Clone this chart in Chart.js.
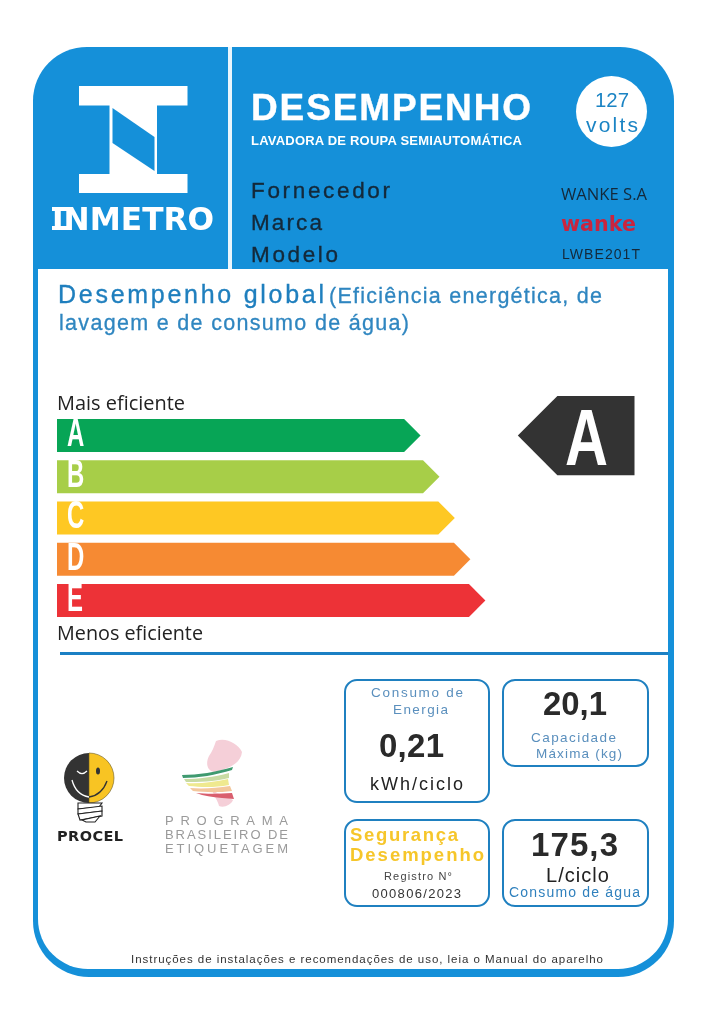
<!DOCTYPE html>
<html lang="pt-BR"><head><meta charset="utf-8"><title>Etiqueta INMETRO</title>
<script src="https://cdn.jsdelivr.net/npm/chart.js@4"></script>
<style>
html,body{margin:0;padding:0;background:#fff;width:707px;height:1024px;overflow:hidden}
#page{position:relative;width:707px;height:1024px;overflow:hidden;background:#fff}
.abs{position:absolute}
#card{left:33px;top:47px;width:641px;height:930px;background:#1590d9;border-radius:54px 54px 56px 56px}
#inner{left:38px;top:269px;width:630px;height:700px;background:#fff;border-radius:0 0 50px 50px}
#divider{left:228px;top:47px;width:3.5px;height:222px;background:#eaf6fd}
#rule{left:60px;top:652px;width:608px;height:3px;background:#1b80c4}
#volt{left:576px;top:76px;width:71px;height:71px;border-radius:50%;background:#fff}
.box{position:absolute;box-sizing:border-box;border:2.5px solid #1f80c0;border-radius:13px;background:#fff}
#art,#chart{position:absolute;left:0;top:0}
.t{position:absolute;white-space:pre;transform-origin:0 0;line-height:1.2}
</style></head><body><div id="page">
<div class="abs" id="card"></div><div class="abs" id="inner"></div><div class="abs" id="divider"></div>
<div class="abs" id="rule"></div><div class="abs" id="volt"></div>
<div class="box" style="left:344px;top:679px;width:146px;height:124px"></div>
<div class="box" style="left:502px;top:679px;width:147px;height:88px"></div>
<div class="box" style="left:344px;top:819px;width:146px;height:88px"></div>
<div class="box" style="left:502px;top:819px;width:147px;height:88px"></div>
<svg id="art" width="707" height="1024" viewBox="0 0 707 1024">
  <g fill="#fff">
    <rect x="79" y="86" width="108.500" height="19.500"/><rect x="79" y="174" width="108.500" height="19"/>
    <rect x="109.500" y="105" width="47.500" height="70"/>
    <rect x="52" y="207" width="15" height="4"/><rect x="52" y="226" width="15" height="4"/>
  </g>
  <path d="M112.500 108L154.500 137V171L112.500 143Z" fill="#1590d9"/>
  <!-- Procel -->
  <path d="M89 753A25 25 0 0 0 89 803Z" fill="#333"/>
  <path d="M89 753A25 25 0 0 1 89 803Z" fill="#f8c423" stroke="#6b5a20" stroke-width=".6"/>
  <path d="M77 771Q82 776 87 771" fill="none" stroke="#fff" stroke-width="1.200"/>
  <ellipse cx="98" cy="771" rx="2" ry="3.500" fill="#333"/>
  <path d="M72 780Q76 795 89 797" fill="none" stroke="#fff" stroke-width="1.300"/>
  <path d="M89 797Q102 795 107 781" fill="none" stroke="#333" stroke-width="1.300"/>
  <g fill="#fff" stroke="#222" stroke-width="1.100">
    <path d="M78 803H102L99 807L78 809Z"/><path d="M78 809L102 806V811L78 814Z"/>
    <path d="M78 814L102 811V816L80 820Z"/><path d="M82 820L100 816L95 822H86Z"/>
  </g>
  <!-- PBE -->
  <path d="M216 741C226 737 238 744 242 752C241 762 232 768 214 772C206 770 206 762 209 756C212 752 214 747 216 741Z" fill="#f5cfd8"/>
  <path d="M212 790C218 794 226 796 233 800C231 805 224 808 219 806C218 801 214 796 212 790Z" fill="#f5cfd8"/>
  <path d="M182 775C198 775 216 772 233 767L232 770C216 775 198 778 183 778Z" fill="#3f9a70"/>
  <path d="M184 779C198 779 214 777 229 773L229 778C214 782 198 782 186 782Z" fill="#c9dba3"/>
  <path d="M186 783C200 784 214 782 228 779L229 785C214 788 200 787 189 786Z" fill="#efe98f"/>
  <path d="M190 788C204 789 216 788 230 786L232 791C216 793 204 792 193 791Z" fill="#f3c79c"/>
  <path d="M196 793C206 794 218 794 232 793L234 799L222 798C212 797 204 796 196 793Z" fill="#d95f6e"/>
</svg>
<canvas id="chart" width="707" height="1024"></canvas>
<div id="texts"></div>
</div>
<script>
// ---- chart values ----
const classes = ['A', 'B', 'C', 'D', 'E'];
const barLengths = [60.6, 63.75, 66.3, 68.9, 71.4];
const barColors = ['#07a556', '#a7ce48', '#fec823', '#f68a33', '#ed3237'];
const ratedClass = 'A';
const ratedMarkerSpan = [76.8, 96.25];
const ratedColor = '#333333';

const labelTexts = {
  title: 'DESEMPENHO', product: 'LAVADORA DE ROUPA SEMIAUTOMÁTICA',
  voltage: '127', voltUnit: 'volts',
  supplier: 'WANKE S.A', brand: 'wanke', model: 'LWBE201T',
  energy: '0,21', capacity: '20,1', water: '175,3', registry: '000806/2023'
};

// text, left, baseline, width, font, colour, stroke
const S = 'Liberation Sans', O = 'Open Sans';
const textRows = [
  [labelTexts.title, 251, 120, 280, `bold 37px "${S}"`, '#fff', .4],
  [labelTexts.product, 251, 145, 271, `bold 13px "${S}"`, '#fff'],
  [labelTexts.voltage, 595, 107, 34, `21px "${S}"`, '#1b84c4'],
  [labelTexts.voltUnit, 586, 132, 52, `21px "${S}"`, '#1b84c4'],
  ['Fornecedor', 251, 198, 139, `22.5px "${S}"`, '#14293a', .35],
  ['Marca', 251, 230, 71, `22.5px "${S}"`, '#14293a', .35],
  ['Modelo', 251, 262, 87, `22.5px "${S}"`, '#14293a', .35],
  [labelTexts.supplier, 561, 199.5, 86, `17px "${O}"`, '#14293a'],
  [labelTexts.brand, 561, 231, 75, `bold 22px "DejaVu Sans"`, '#c9253f'],
  [labelTexts.model, 562, 259, 78, `14px "${S}"`, '#14293a'],
  ['INMETRO', 52, 230, 162, `bold 32px "DejaVu Sans"`, '#fff'],
  ['Desempenho global', 58, 303, 266, `25px "${S}"`, '#1f7fbe', .35],
  ['(Eficiência energética, de', 329, 303, 273, `21.5px "${S}"`, '#2f86c0', .3],
  ['lavagem e de consumo de água)', 59, 330, 350, `21.5px "${S}"`, '#2f86c0', .3],
  ['Mais eficiente', 57, 410, 128, `20px "${O}"`, '#222'],
  ['Menos eficiente', 57, 640, 146, `20px "${O}"`, '#222'],
  [ratedClass, 565, 465, 43, `bold 79px "${S}"`, '#fff'],
  ['PROCEL', 57, 841, 66, `bold 14.5px "DejaVu Sans"`, '#222'],
  ['PROGRAMA', 165, 825, 123, `13px "${S}"`, '#9a9a9a'],
  ['BRASILEIRO DE', 165, 839, 123, `13px "${S}"`, '#9a9a9a'],
  ['ETIQUETAGEM', 165, 853, 123, `13px "${S}"`, '#9a9a9a'],
  ['Consumo de', 371, 697, 92, `13.5px "${S}"`, '#5a8fbd'],
  ['Energia', 393, 714, 55, `13.5px "${S}"`, '#5a8fbd'],
  [labelTexts.energy, 379, 757, 65, `bold 33px "${S}"`, '#2a2a2a'],
  ['kWh/ciclo', 370, 790, 93, `18px "${S}"`, '#222'],
  [labelTexts.capacity, 543, 715, 64, `bold 34px "${S}"`, '#2a2a2a'],
  ['Capacidade', 531, 742, 85, `13.5px "${S}"`, '#5a8fbd'],
  ['Máxima (kg)', 536, 758, 86, `13.5px "${S}"`, '#5a8fbd'],
  ['Segurança', 350, 841, 108, `bold 18.5px "${S}"`, '#f6c62a'],
  ['Desempenho', 350, 861, 134, `bold 18.5px "${S}"`, '#f6c62a'],
  ['Registro N°', 384, 880, 68, `11px "${S}"`, '#444'],
  [labelTexts.registry, 372, 898, 89, `13px "${S}"`, '#333'],
  [labelTexts.water, 531, 856, 87, `bold 33px "${S}"`, '#2a2a2a'],
  ['L/ciclo', 546, 882, 63, `20px "${S}"`, '#222'],
  ['Consumo de água', 509, 897, 131, `14px "${S}"`, '#2f80bd'],
  ['Instruções de instalações e recomendações de uso, leia o Manual do aparelho', 131, 963, 472, `11.5px "${S}"`, '#333']
];

const host = document.getElementById('texts');
textRows.forEach(([txt, left, base, width, font, color, stroke]) => {
  const el = document.createElement('div');
  el.className = 't'; el.textContent = txt;
  el.style.cssText = `left:${left}px;top:0;font:${font};color:${color};line-height:1.2;` +
    (stroke ? `-webkit-text-stroke:${stroke}px ${color};` : '');
  const probe = document.createElement('span');
  probe.style.cssText = 'display:inline-block;width:0;height:0';
  el.appendChild(probe);
  host.appendChild(el);
  const hostTop = host.getBoundingClientRect().top;
  const baseNow = probe.getBoundingClientRect().bottom - hostTop;
  el.style.top = (base - baseNow) + 'px';
  el.removeChild(probe);
  const natural = el.getBoundingClientRect().width;
  if (natural > width || txt.length < 2) el.style.transform = `scaleX(${width / natural})`;
  else el.style.letterSpacing = ((width - natural) / (txt.length - 1)) + 'px';
});

// each bar is drawn as an arrow, from the geometry the library computed
const arrowBars = {
  id: 'arrowBars',
  beforeDatasetDraw(chart, args) {
    const ctx = chart.ctx, ds = chart.data.datasets[args.index];
    args.meta.data.forEach((el, i) => {
      if (el.skip || ds.data[i] == null) return;
      const { x, y, base, height } = el.getProps(['x', 'y', 'base', 'height']);
      const h = height / 2;
      ctx.save();
      ctx.fillStyle = Array.isArray(ds.backgroundColor) ? ds.backgroundColor[i] : ds.backgroundColor;
      ctx.beginPath();
      if (ds.pointsLeft) {
        ctx.moveTo(base, y); ctx.lineTo(base + h, y - h); ctx.lineTo(x, y - h); ctx.lineTo(x, y + h); ctx.lineTo(base + h, y + h);
      } else {
        ctx.moveTo(base, y - h); ctx.lineTo(x - h, y - h); ctx.lineTo(x, y); ctx.lineTo(x - h, y + h); ctx.lineTo(base, y + h);
      }
      ctx.closePath(); ctx.fill(); ctx.restore();
    });
    return false;
  },
  // condensed class letters on the axis positions
  afterDatasetsDraw(chart) {
    const ctx = chart.ctx, yAxis = chart.scales.y;
    yAxis.ticks.forEach((tick, i) => {
      ctx.save();
      ctx.translate(chart.chartArea.left + 10, yAxis.getPixelForTick(i));
      ctx.scale(0.63, 1);
      ctx.font = 'bold 38px "Liberation Sans"';
      ctx.fillStyle = '#fff';
      ctx.textAlign = 'left';
      ctx.textBaseline = 'middle';
      ctx.fillText(yAxis.getLabelForValue(tick.value), 0, 0);
      ctx.restore();
    });
  }
};

new Chart(document.getElementById('chart'), {
  type: 'bar',
  plugins: [arrowBars],
  data: {
    labels: classes,
    datasets: [
      { data: barLengths, backgroundColor: barColors, barPercentage: 0.8, categoryPercentage: 1, grouped: false },
      { data: classes.map(c => c === ratedClass ? ratedMarkerSpan : null), backgroundColor: ratedColor,
        barPercentage: 1.92, categoryPercentage: 1, grouped: false, pointsLeft: true }
    ]
  },
  options: {
    indexAxis: 'y', responsive: false, animation: false, devicePixelRatio: 1,
    layout: { padding: { left: 57, right: 50, top: 415, bottom: 403 } },
    plugins: { legend: { display: false }, tooltip: { enabled: false } },
    scales: {
      x: { display: false, min: 0, max: 100 },
      y: {
        type: 'category', offset: true,
        grid: { display: false }, border: { display: false },
        afterFit(s) { s.width = 0; },
        ticks: { display: false, autoSkip: false }
      }
    }
  }
});
</script></body></html>
